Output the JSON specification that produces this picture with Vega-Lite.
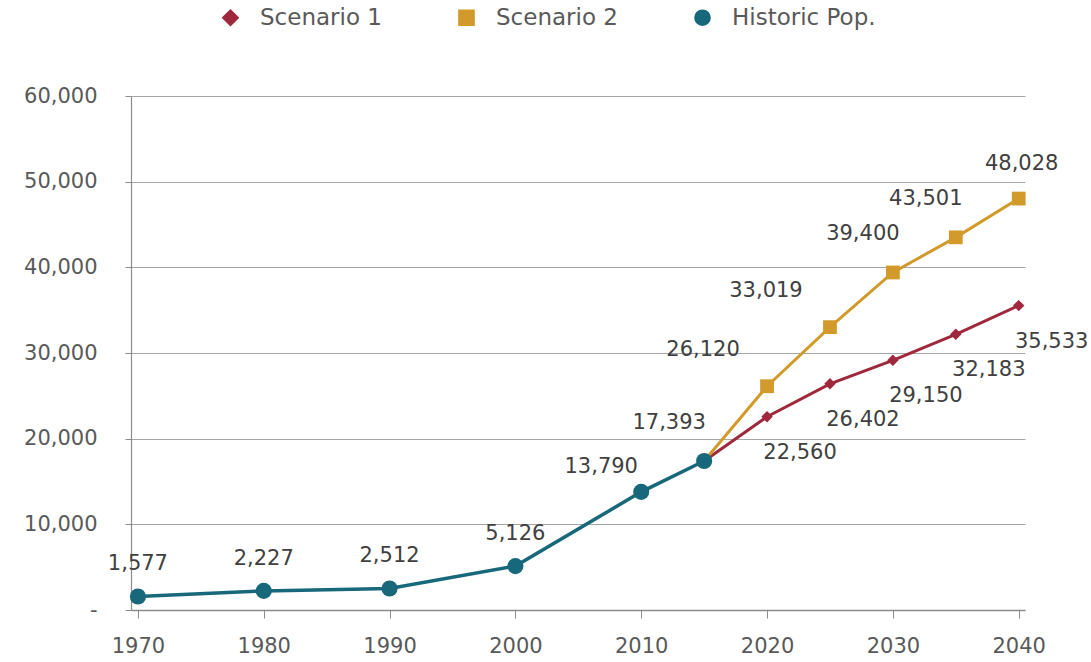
{
  "$schema": "https://vega.github.io/schema/vega-lite/v6.json",
  "width": 894,
  "height": 514,
  "autosize": {"type": "none"},
  "padding": {"left": 131, "top": 96, "right": 66, "bottom": 52},
  "background": "white",
  "config": {
    "view": {"stroke": null},
    "font": "DejaVu Sans",
    "axis": {"labelFont": "DejaVu Sans", "labelFontSize": 21, "labelColor": "#595959", "domainColor": "#8c8c8c", "tickColor": "#8c8c8c", "gridColor": "#a6a6a6", "titleFontSize": 0},
    "legend": {"labelFont": "DejaVu Sans", "labelFontSize": 23, "labelColor": "#595959"}
  },
  "data": {
    "values": [
      {"year": 1970, "pop": 1577, "series": "Historic Pop."},
      {"year": 1980, "pop": 2227, "series": "Historic Pop."},
      {"year": 1990, "pop": 2512, "series": "Historic Pop."},
      {"year": 2000, "pop": 5126, "series": "Historic Pop."},
      {"year": 2010, "pop": 13790, "series": "Historic Pop."},
      {"year": 2015, "pop": 17393, "series": "Historic Pop."},
      {"year": 2015, "pop": 17393, "series": "Scenario 1"},
      {"year": 2020, "pop": 22560, "series": "Scenario 1"},
      {"year": 2025, "pop": 26402, "series": "Scenario 1"},
      {"year": 2030, "pop": 29150, "series": "Scenario 1"},
      {"year": 2035, "pop": 32183, "series": "Scenario 1"},
      {"year": 2040, "pop": 35533, "series": "Scenario 1"},
      {"year": 2015, "pop": 17393, "series": "Scenario 2"},
      {"year": 2020, "pop": 26120, "series": "Scenario 2"},
      {"year": 2025, "pop": 33019, "series": "Scenario 2"},
      {"year": 2030, "pop": 39400, "series": "Scenario 2"},
      {"year": 2035, "pop": 43501, "series": "Scenario 2"},
      {"year": 2040, "pop": 48028, "series": "Scenario 2"}
    ]
  },
  "encoding": {
    "x": {
      "field": "year", "type": "quantitative",
      "scale": {"domain": [1969.45, 2040.5], "nice": false, "zero": false},
      "axis": {"values": [1970, 1980, 1990, 2000, 2010, 2020, 2030, 2040], "format": "d", "grid": false, "tickSize": 8, "labelPadding": 17, "title": null, "domainWidth": 1.5}
    },
    "y": {
      "field": "pop", "type": "quantitative",
      "scale": {"domain": [0, 60000], "nice": false},
      "axis": {"values": [0, 10000, 20000, 30000, 40000, 50000, 60000], "labelExpr": "datum.value == 0 ? '-' : format(datum.value, ',')", "tickSize": 6, "labelPadding": 28, "title": null, "gridWidth": 1.2, "domainWidth": 1.2}
    },
    "color": {
      "field": "series", "type": "nominal",
      "scale": {"domain": ["Scenario 1", "Scenario 2", "Historic Pop."], "range": ["#a0283c", "#d19a2a", "#17687a"]},
      "legend": {"orient": "none", "legendX": 88, "legendY": -90, "direction": "horizontal", "title": null, "columnPadding": 72, "symbolSize": 200, "symbolStrokeWidth": 2.5, "labelOffset": 18}
    }
  },
  "layer": [
    {
      "transform": [{"filter": "datum.series != 'Historic Pop.'"}],
      "mark": {"type": "line", "strokeWidth": 3}
    },
    {
      "transform": [{"filter": "datum.series != 'Historic Pop.' && datum.year > 2015"}],
      "mark": {"type": "point", "filled": true, "opacity": 1, "size": 150},
      "encoding": {
        "shape": {"field": "series", "type": "nominal", "scale": {"domain": ["Scenario 1", "Scenario 2", "Historic Pop."], "range": ["diamond", "square", "circle"]}, "legend": null},
        "size": {"field": "series", "type": "nominal", "scale": {"domain": ["Scenario 1", "Scenario 2"], "range": [130, 190]}, "legend": null}
      }
    },
    {
      "transform": [{"filter": "datum.series == 'Historic Pop.'"}],
      "mark": {"type": "line", "strokeWidth": 3.5}
    },
    {
      "transform": [{"filter": "datum.series == 'Historic Pop.'"}],
      "mark": {"type": "point", "filled": true, "opacity": 1, "size": 260, "shape": "circle"}
    },
    {
      "transform": [{"filter": "datum.series == 'Historic Pop.' && datum.year <= 2000"}],
      "mark": {"type": "text", "dy": -32, "fontSize": 21},
      "encoding": {"text": {"field": "pop", "format": ","}, "color": {"value": "#404040"}}
    },
    {
      "transform": [{"filter": "datum.series == 'Historic Pop.' && datum.year == 2010"}],
      "mark": {"type": "text", "dx": -40, "dy": -25, "fontSize": 21},
      "encoding": {"text": {"field": "pop", "format": ","}, "color": {"value": "#404040"}}
    },
    {
      "transform": [{"filter": "datum.series == 'Historic Pop.' && datum.year == 2015"}],
      "mark": {"type": "text", "dx": -35, "dy": -38, "fontSize": 21},
      "encoding": {"text": {"field": "pop", "format": ","}, "color": {"value": "#404040"}}
    },
    {
      "transform": [{"filter": "datum.series == 'Scenario 1' && datum.year > 2015"}],
      "mark": {"type": "text", "dx": 33, "dy": 36, "fontSize": 21},
      "encoding": {"text": {"field": "pop", "format": ","}, "color": {"value": "#404040"}}
    },
    {
      "transform": [{"filter": "datum.series == 'Scenario 2' && datum.year > 2015 && datum.year <= 2025"}],
      "mark": {"type": "text", "dx": -64, "dy": -36, "fontSize": 21},
      "encoding": {"text": {"field": "pop", "format": ","}, "color": {"value": "#404040"}}
    },
    {
      "transform": [{"filter": "datum.series == 'Scenario 2' && datum.year >= 2030 && datum.year <= 2035"}],
      "mark": {"type": "text", "dx": -30, "dy": -38, "fontSize": 21},
      "encoding": {"text": {"field": "pop", "format": ","}, "color": {"value": "#404040"}}
    },
    {
      "transform": [{"filter": "datum.series == 'Scenario 2' && datum.year == 2040"}],
      "mark": {"type": "text", "dx": 3, "dy": -35, "fontSize": 21},
      "encoding": {"text": {"field": "pop", "format": ","}, "color": {"value": "#404040"}}
    }
  ]
}
